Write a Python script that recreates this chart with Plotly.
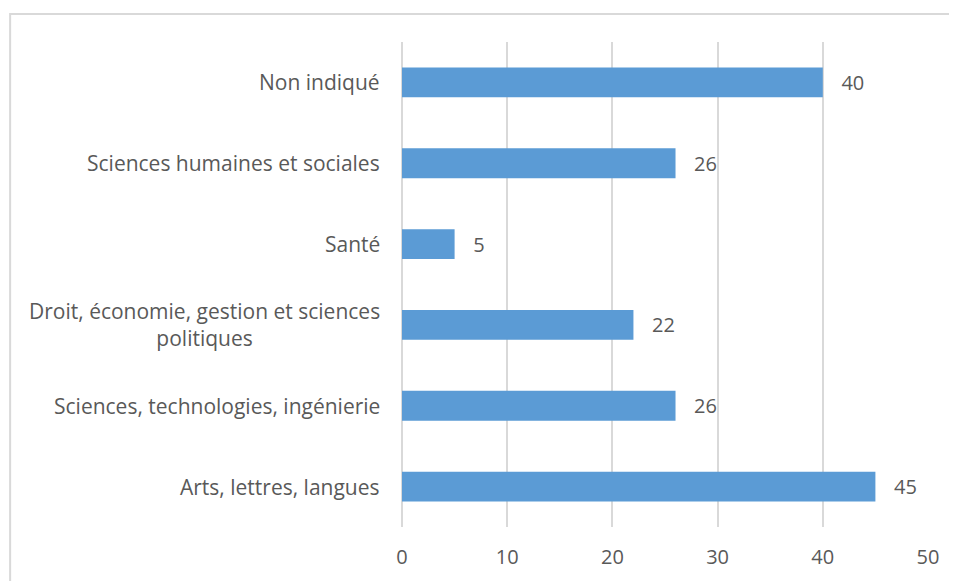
import plotly.graph_objects as go

categories = [
    "Arts, lettres, langues",
    "Sciences, technologies, ingénierie",
    "Droit, économie, gestion et sciences<br>politiques",
    "Santé",
    "Sciences humaines et sociales",
    "Non indiqué",
]
values = [45, 26, 22, 5, 26, 40]
x_ticks = [0, 10, 20, 30, 40, 50]

FONT = "Open Sans"
TXT = "#595959"
FS = 21

fig = go.Figure(go.Bar(
    x=values, y=categories, orientation="h",
    marker=dict(color="#5B9BD5", line=dict(width=0)),
    text=[str(v) for v in values], textposition="outside",
    texttemplate="   %{text}",
    textfont=dict(family=FONT, size=20, color=TXT),
    cliponaxis=False, width=0.37,
))

for c in categories:
    fig.add_annotation(
        x=0, xref="paper", y=c, yref="y", text=c, showarrow=False,
        xanchor="right", align="center", xshift=-20,
        font=dict(family=FONT, size=FS, color=TXT),
    )

fig.add_shape(type="rect", xref="paper", yref="paper",
              x0=-0.745, x1=1.3, y0=-0.3, y1=1.0577,
              line=dict(color="#d9d9d9", width=2), fillcolor="rgba(0,0,0,0)", layer="below")

fig.update_layout(
    width=957, height=581,
    margin=dict(l=394, r=37, t=34, b=62),
    plot_bgcolor="white", paper_bgcolor="white",
    showlegend=False,
    font=dict(family=FONT, size=FS, color=TXT),
    xaxis=dict(range=[0, 50], tickvals=x_ticks, showgrid=True, gridcolor="#d9d9d9",
               gridwidth=1.5, zeroline=True, zerolinecolor="#d9d9d9", zerolinewidth=1.5,
               showline=False, ticks="", ticklabelstandoff=16,
               tickfont=dict(family=FONT, size=20, color=TXT)),
    yaxis=dict(showticklabels=False, showgrid=False, zeroline=False, showline=False,
               categoryorder="array", categoryarray=categories),
)

fig.write_html("out.html")
